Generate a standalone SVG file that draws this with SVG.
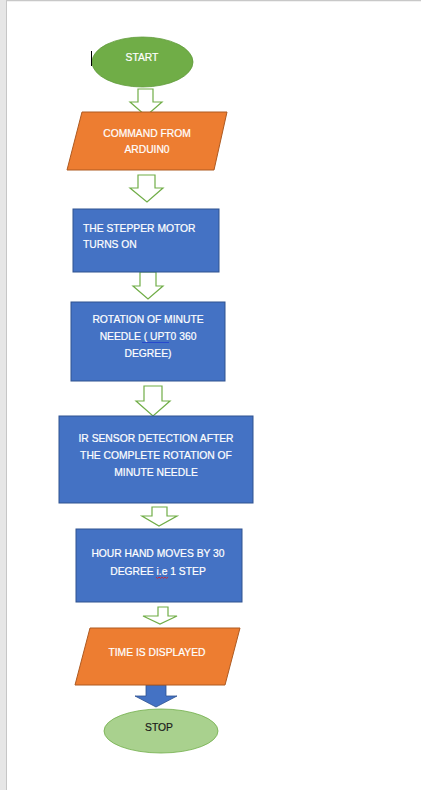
<svg xmlns="http://www.w3.org/2000/svg" width="421" height="790" viewBox="0 0 421 790">
<style>
.t{font-family:"Liberation Sans",Arial,sans-serif;font-size:10.3px;fill:#fff;stroke:#fff;stroke-width:0.2;text-anchor:middle}
.tl{text-anchor:start}
.dk{fill:#1a1a1a;stroke:#1a1a1a}
.proc{fill:#4472c4;stroke:#2f528f;stroke-width:1}
.io{fill:#ed7d31;stroke:#ae5a21;stroke-width:1}
.ha{fill:#fff;stroke:#70ad47;stroke-width:1.2;stroke-linejoin:miter}
.sa{fill:#4472c4;stroke:#2f528f;stroke-width:0.8}
</style>
<rect x="0" y="0" width="421" height="790" fill="#fff"/>
<rect x="0" y="0" width="6" height="790" fill="#e6e6e6"/>
<line x1="6.5" y1="0" x2="6.5" y2="790" stroke="#c6c6c6" stroke-width="1"/>
<line x1="6" y1="0.5" x2="421" y2="0.5" stroke="#c8c8c8" stroke-width="1.5"/>

<g id="connectors">
<path class="ha" d="M138,89 H153 V102 H162 L146,116 L130,102 H138 Z"/>
<path class="ha" d="M138,175 H155 V188 H163 L147,202 L130,188 H138 Z"/>
<path class="ha" d="M140,272 H156 V286 H163 L148,299 L133,286 H140 Z"/>
<path class="ha" d="M144,386 H162 V401 H170 L153,416 L136,401 H144 Z"/>
<path class="ha" d="M152,507 H167 V516 H177 L159,526 L142,516 H152 Z"/>
<path class="ha" d="M158,607 H168 V616 H177 L160,624 L143,616 H158 Z"/>
<path class="sa" d="M146,685 H166 V696 H177 L156,707 L135,696 H146 Z"/>
</g>

<g id="start">
<ellipse cx="142.5" cy="62" rx="50.5" ry="25" fill="#70ad47" stroke="#5f9a3a" stroke-width="0.8"/>
<text class="t" x="142" y="61">START</text>
<line x1="91.5" y1="51" x2="91.5" y2="66" stroke="#000" stroke-width="1"/>
</g>

<g id="command">
<polygon class="io" points="82,112 227,112 214,170 67,170"/>
<text class="t" x="147" y="137">COMMAND FROM</text>
<text class="t" x="147" y="153">ARDUIN0</text>
</g>

<g id="stepper">
<rect class="proc" x="73" y="209" width="146" height="63"/>
<text class="t tl" x="83" y="232">THE STEPPER MOTOR</text>
<text class="t tl" x="83" y="248">TURNS ON</text>
</g>

<g id="rotation">
<rect class="proc" x="71" y="302" width="154" height="79"/>
<text class="t" x="148" y="323">ROTATION OF MINUTE</text>
<text class="t" x="148" y="340">NEEDLE ( UPT0 360</text>
<text class="t" x="148" y="357">DEGREE)</text>
<line x1="142" y1="342.5" x2="169" y2="342.5" stroke="#1f3fd0" stroke-width="0.8"/>
</g>

<g id="irsensor">
<rect class="proc" x="59" y="416" width="194" height="87"/>
<text class="t" x="156" y="442">IR SENSOR DETECTION AFTER</text>
<text class="t" x="156" y="459">THE COMPLETE ROTATION OF</text>
<text class="t" x="156" y="476">MINUTE NEEDLE</text>
</g>

<g id="hourhand">
<rect class="proc" x="76" y="529" width="166" height="73"/>
<text class="t" x="158" y="557">HOUR HAND MOVES BY 30</text>
<text class="t" x="158" y="575">DEGREE i.e 1 STEP</text>
<path d="M156,577 l1.5,1.5 l1.5,-1.5 l1.5,1.5 l1.5,-1.5 l1.5,1.5 l1.5,-1.5 l1.5,1.5 l1.5,-1.5" fill="none" stroke="#e02020" stroke-width="0.8"/>
</g>

<g id="display">
<polygon class="io" points="90,628 240,628 225,685 75,685"/>
<text class="t" x="157" y="656">TIME IS DISPLAYED</text>
</g>

<g id="stop">
<ellipse cx="161" cy="731" rx="57" ry="22" fill="#a9d18e" stroke="#70ad47" stroke-width="0.8"/>
<text class="t dk" x="159" y="731">STOP</text>
</g>
</svg>
